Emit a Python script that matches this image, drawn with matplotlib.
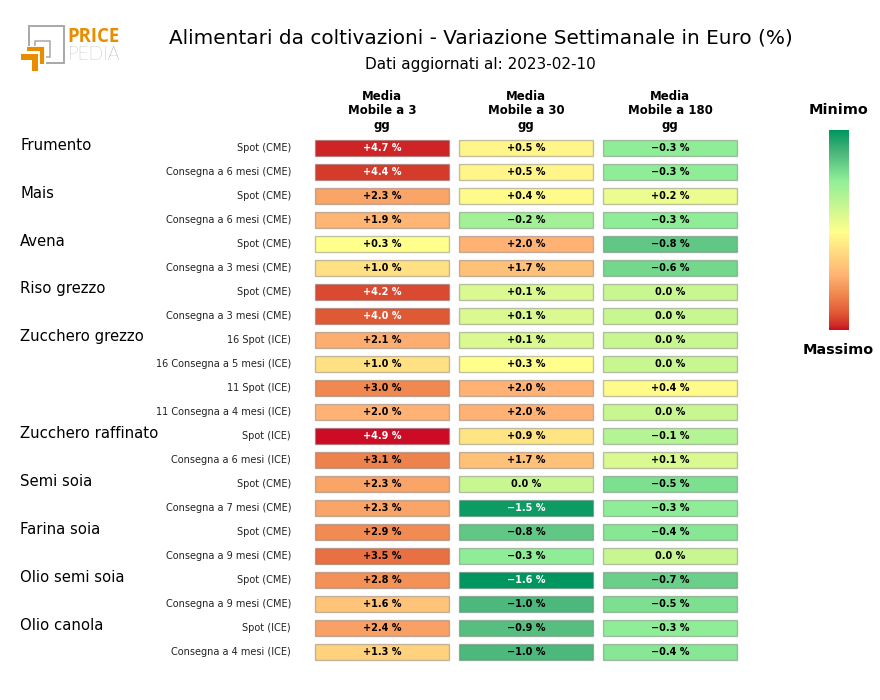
import numpy as np
import matplotlib
matplotlib.use('Agg')
import matplotlib.pyplot as plt
from matplotlib.colors import LinearSegmentedColormap

groups = ['Frumento', 'Mais', 'Avena', 'Riso grezzo', 'Zucchero grezzo',
          'Zucchero raffinato', 'Semi soia', 'Farina soia', 'Olio semi soia', 'Olio canola']
group_rows = [0, 2, 4, 6, 8, 12, 14, 16, 18, 20]
row_labels = ['Spot (CME)', 'Consegna a 6 mesi (CME)', 'Spot (CME)', 'Consegna a 6 mesi (CME)',
              'Spot (CME)', 'Consegna a 3 mesi (CME)', 'Spot (CME)', 'Consegna a 3 mesi (CME)',
              '16 Spot (ICE)', '16 Consegna a 5 mesi (ICE)', '11 Spot (ICE)', '11 Consegna a 4 mesi (ICE)',
              'Spot (ICE)', 'Consegna a 6 mesi (ICE)', 'Spot (CME)', 'Consegna a 7 mesi (CME)',
              'Spot (CME)', 'Consegna a 9 mesi (CME)', 'Spot (CME)', 'Consegna a 9 mesi (CME)',
              'Spot (ICE)', 'Consegna a 4 mesi (ICE)']
ma3 = [4.7, 4.4, 2.3, 1.9, 0.3, 1.0, 4.2, 4.0, 2.1, 1.0, 3.0, 2.0, 4.9, 3.1, 2.3, 2.3, 2.9, 3.5, 2.8, 1.6, 2.4, 1.3]
ma30 = [0.5, 0.5, 0.4, -0.2, 2.0, 1.7, 0.1, 0.1, 0.1, 0.3, 2.0, 2.0, 0.9, 1.7, 0.0, -1.5, -0.8, -0.3, -1.6, -1.0, -0.9, -1.0]
ma180 = [-0.3, -0.3, 0.2, -0.3, -0.8, -0.6, 0.0, 0.0, 0.0, 0.0, 0.4, 0.0, -0.1, 0.1, -0.5, -0.3, -0.4, 0.0, -0.7, -0.5, -0.3, -0.4]
series = [ma3, ma30, ma180]
headers = ['Media\nMobile a 3\ngg', 'Media\nMobile a 30\ngg', 'Media\nMobile a 180\ngg']

W, H = 880, 700
fig = plt.figure(figsize=(W / 100, H / 100), dpi=100, facecolor='white')


def px_axes(x0, y0, x1, y1, **kw):
    return fig.add_axes([x0 / W, 1 - y1 / H, (x1 - x0) / W, (y1 - y0) / H], **kw)


cmap = LinearSegmentedColormap.from_list('pp', [
    (0.00, '#cc0c25'), (0.02, '#cf2a25'), (0.084, '#e05a35'), (0.177, '#f0884f'),
    (0.27, '#ffb273'), (0.49, '#ffff8c'), (0.75, '#90ee98'), (0.885, '#4db87c'), (1.00, '#00965f')])
v_nodes = [-1.6, -0.3, 0.3, 2.0, 4.9]
c_nodes = [1.0, 0.75, 0.49, 0.27, 0.0]


def to_pos(v):
    return float(np.interp(v, v_nodes, c_nodes))


ax = px_axes(310.0, 136.0, 742.0, 664.0)
ax.set_xlim(-0.5, 2.5)
ax.set_ylim(21.5, -0.5)
ax.axis('off')
for c, vals in enumerate(series):
    for r, v in enumerate(vals):
        ax.barh(r, 134 / 144, left=c - 67 / 144, height=16 / 24, color=cmap(to_pos(v)),
                edgecolor=(0.4, 0.4, 0.4, 0.4), linewidth=1)
        s = '0.0 %' if v == 0 else f'{v:+.1f} %'.replace('-', '\u2212')
        ax.text(c, r, s, ha='center', va='center', fontsize=7, fontweight='bold',
                color='white' if (v >= 4 or v <= -1.5) else 'black')

ov = px_axes(0, 0, W, H)
ov.set_xlim(0, W)
ov.set_ylim(H, 0)
ov.axis('off')
ov.patch.set_alpha(0)

ov.text(480.5, 38, 'Alimentari da coltivazioni - Variazione Settimanale in Euro (%)',
        ha='center', va='center', fontsize=14.45)
ov.text(480, 64, 'Dati aggiornati al: 2023-02-10', ha='center', va='center', fontsize=11)

for c, h in enumerate(headers):
    ov.text(382 + 144 * c, 111, h, ha='center', va='center', fontsize=8.5, fontweight='bold',
            linespacing=1.2)

for r, lab in enumerate(row_labels):
    ov.text(291, 148 + 24 * r, lab, ha='right', va='center', fontsize=7, color='#222222')
for g, r in zip(groups, group_rows):
    ov.text(20, 145 + 24 * r, g, ha='left', va='center', fontsize=10.7)

cax = px_axes(829, 130, 849, 330)
grad = np.linspace(1, 0, 256).reshape(-1, 1)
cax.imshow(grad, cmap=cmap, aspect='auto', vmin=0, vmax=1)
cax.axis('off')
ov.text(838.5, 110, 'Minimo', ha='center', va='center', fontsize=10.4, fontweight='bold')
ov.text(838.5, 350, 'Massimo', ha='center', va='center', fontsize=10.4, fontweight='bold')

# Logo
grey = '#a8a8a8'
orange = '#e88c00'
ov.plot([29, 29, 64, 64, 46], [46, 26, 26, 63, 63], color=grey, lw=1.4, solid_capstyle='butt', solid_joinstyle='miter')
ov.plot([35, 35, 50, 50, 46], [46, 41, 41, 57, 57], color=grey, lw=1.1, solid_capstyle='butt', solid_joinstyle='miter')
ov.plot([27, 42, 42], [49, 49, 64], color=orange, lw=3.0, solid_capstyle='butt', solid_joinstyle='miter')
ov.plot([21, 34.5, 34.5], [56.5, 56.5, 71], color=orange, lw=4.3, solid_capstyle='butt', solid_joinstyle='miter')
ov.text(67.5, 42.5, 'PRICE', ha='left', va='baseline', fontsize=13.4, fontweight='bold', color=orange,
        family='Open Sans')
ov.text(67.5, 60, 'PEDIA', ha='left', va='baseline', fontsize=13.6, color='#8c8c8c', family='Lato',
        fontweight='light')

fig.savefig('out.png', dpi=100, facecolor='white')
